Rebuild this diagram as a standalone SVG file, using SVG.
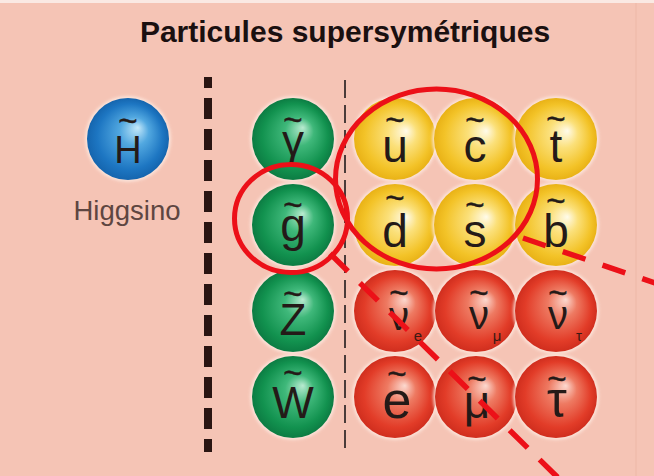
<svg xmlns="http://www.w3.org/2000/svg" width="654" height="476" viewBox="0 0 654 476">
<defs>
<radialGradient id="gBlue" cx="0.5" cy="0.5" r="0.5" fx="0.62" fy="0.36">
<stop offset="0" stop-color="#c4e8fa"/><stop offset="0.35" stop-color="#52a8e0"/><stop offset="0.8" stop-color="#1d76c2"/><stop offset="1" stop-color="#1565ae"/>
</radialGradient>
<radialGradient id="gGreen" cx="0.5" cy="0.5" r="0.5" fx="0.62" fy="0.36">
<stop offset="0" stop-color="#b8ead0"/><stop offset="0.35" stop-color="#3fb87a"/><stop offset="0.8" stop-color="#12924f"/><stop offset="1" stop-color="#0c7c43"/>
</radialGradient>
<radialGradient id="gYellow" cx="0.5" cy="0.5" r="0.5" fx="0.64" fy="0.4">
<stop offset="0" stop-color="#fffbea"/><stop offset="0.35" stop-color="#fbe07a"/><stop offset="0.8" stop-color="#f3c328"/><stop offset="1" stop-color="#e9b216"/>
</radialGradient>
<radialGradient id="gRed" cx="0.5" cy="0.5" r="0.5" fx="0.62" fy="0.36">
<stop offset="0" stop-color="#fcd9cf"/><stop offset="0.35" stop-color="#ee7a62"/><stop offset="0.8" stop-color="#e23c28"/><stop offset="1" stop-color="#d02e1e"/>
</radialGradient>
<filter id="blur" x="-20%" y="-20%" width="140%" height="140%"><feGaussianBlur stdDeviation="1.6"/></filter>
</defs>
<style>
.halo{fill:#fde9e0;opacity:.85;filter:url(#blur)}
.blue{fill:url(#gBlue)}
.green{fill:url(#gGreen)}
.yellow{fill:url(#gYellow)}
.red{fill:url(#gRed)}
.lt{font-family:"Liberation Sans",Arial,sans-serif;fill:#241a18;text-anchor:middle}
.tl{font-family:"Liberation Sans",Arial,sans-serif;fill:#241a18;text-anchor:middle;font-size:33px;stroke:#241a18;stroke-width:0.5}
.sub{font-family:"Liberation Sans",Arial,sans-serif;fill:#3a1a14;text-anchor:middle;font-size:15px}
.title{font-family:"Liberation Sans",Arial,sans-serif;font-weight:bold;font-size:30px;fill:#1a1010;text-anchor:middle}
.lbl{font-family:"Liberation Sans",Arial,sans-serif;font-size:27.5px;fill:#5e4641;text-anchor:middle}
.ann{fill:none;stroke:#ec1018;stroke-width:5}
.conn{fill:none;stroke:#ec1018;stroke-width:5.5}
</style>
<rect x="0" y="0" width="654" height="476" fill="#f5c4b5"/>
<rect x="0" y="0" width="654" height="3" fill="#fae9e3"/>
<line x1="636" y1="3" x2="636" y2="476" stroke="#efbcad" stroke-width="1.5"/>
<text class="title" x="345" y="42">Particules supersymétriques</text>
<line x1="208" y1="77" x2="208" y2="452" stroke="#2a1512" stroke-width="8" stroke-dasharray="21 10" stroke-dashoffset="10"/>
<line x1="345" y1="80" x2="345" y2="455" stroke="#4a3c3a" stroke-width="2" stroke-dasharray="18 7"/>
<g id="higgsino">
<circle class="halo" cx="128" cy="139" r="43"/><circle class="blue" cx="128" cy="139" r="41"/>
<text class="tl" x="128" y="132">~</text><text class="lt" x="128" y="163" font-size="38">H</text>
<text class="lbl" x="127" y="220">Higgsino</text>
</g>
<g id="photino"><circle class="halo" cx="293" cy="139" r="43"/><circle class="green" cx="293" cy="139" r="41"/>
<text class="tl" x="293" y="131">~</text><text class="lt" x="293" y="156" font-size="44">γ</text></g>
<g id="gluino"><circle class="halo" cx="293" cy="225" r="43"/><circle class="green" cx="293" cy="225" r="41"/>
<text class="tl" x="293" y="216">~</text><text class="lt" x="293" y="241" font-size="46">g</text></g>
<g id="zino"><circle class="halo" cx="293" cy="311" r="43"/><circle class="green" cx="293" cy="311" r="41"/>
<text class="tl" x="293" y="305">~</text><text class="lt" x="293" y="335" font-size="44">Z</text></g>
<g id="wino"><circle class="halo" cx="293" cy="397" r="43"/><circle class="green" cx="293" cy="397" r="41"/>
<text class="tl" x="293" y="384">~</text><text class="lt" x="293" y="418" font-size="44">W</text></g>
<g id="s-up"><circle class="halo" cx="395" cy="139" r="43"/><circle class="yellow" cx="395" cy="139" r="41"/>
<text class="tl" x="395" y="131">~</text><text class="lt" x="395" y="162" font-size="46">u</text></g>
<g id="s-charm"><circle class="halo" cx="475" cy="139" r="43"/><circle class="yellow" cx="475" cy="139" r="41"/>
<text class="tl" x="475" y="131">~</text><text class="lt" x="475" y="162" font-size="46">c</text></g>
<g id="s-top"><circle class="halo" cx="556" cy="139" r="43"/><circle class="yellow" cx="556" cy="139" r="41"/>
<text class="tl" x="556" y="130">~</text><text class="lt" x="556" y="162" font-size="46">t</text></g>
<g id="s-down"><circle class="halo" cx="395" cy="225" r="43"/><circle class="yellow" cx="395" cy="225" r="41"/>
<text class="tl" x="395" y="209">~</text><text class="lt" x="395" y="247" font-size="46">d</text></g>
<g id="s-strange"><circle class="halo" cx="475" cy="225" r="43"/><circle class="yellow" cx="475" cy="225" r="41"/>
<text class="tl" x="475" y="216">~</text><text class="lt" x="475" y="247" font-size="46">s</text></g>
<g id="s-bottom"><circle class="halo" cx="556" cy="225" r="43"/><circle class="yellow" cx="556" cy="225" r="41"/>
<text class="tl" x="556" y="212">~</text><text class="lt" x="556" y="247" font-size="46">b</text></g>
<g id="s-nu-e"><circle class="halo" cx="395" cy="311" r="43"/><circle class="red" cx="395" cy="311" r="41"/>
<text class="tl" x="399" y="304">~</text><text class="lt" x="399" y="330" font-size="40">ν</text><text class="sub" x="418" y="341">e</text></g>
<g id="s-nu-mu"><circle class="halo" cx="476" cy="311" r="43"/><circle class="red" cx="476" cy="311" r="41"/>
<text class="tl" x="479" y="304">~</text><text class="lt" x="479" y="329" font-size="40">ν</text><text class="sub" x="497" y="341">μ</text></g>
<g id="s-nu-tau"><circle class="halo" cx="556" cy="311" r="43"/><circle class="red" cx="556" cy="311" r="41"/>
<text class="tl" x="558" y="304">~</text><text class="lt" x="558" y="329" font-size="40">ν</text><text class="sub" x="579" y="341">τ</text></g>
<g id="s-electron"><circle class="halo" cx="395" cy="397" r="43"/><circle class="red" cx="395" cy="397" r="41"/>
<text class="tl" x="397" y="385">~</text><text class="lt" x="397" y="418" font-size="52">e</text></g>
<g id="s-muon"><circle class="halo" cx="476" cy="397" r="43"/><circle class="red" cx="476" cy="397" r="41"/>
<text class="tl" x="477" y="390">~</text><text class="lt" x="477" y="418" font-size="46">μ</text></g>
<g id="s-tau"><circle class="halo" cx="556" cy="397" r="43"/><circle class="red" cx="556" cy="397" r="41"/>
<text class="tl" x="557" y="390">~</text><text class="lt" x="557" y="417" font-size="50">τ</text></g>
<g id="annotations">
<ellipse class="ann" cx="291" cy="218.5" rx="56.5" ry="54"/>
<ellipse class="ann" cx="436.5" cy="179" rx="101" ry="90"/>
</g>
<g id="connectors">
<line class="conn" x1="330" y1="253.5" x2="572" y2="491.5" stroke-dasharray="25.2 16.8"/>
<line class="conn" x1="523" y1="238" x2="662" y2="285.3" stroke-dasharray="24 18"/>
</g>
</svg>
